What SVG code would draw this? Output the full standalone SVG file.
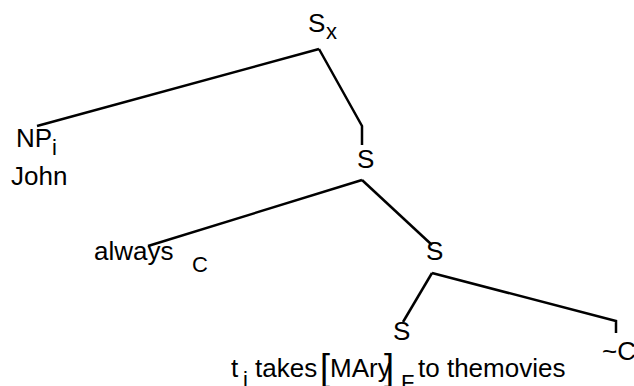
<svg xmlns="http://www.w3.org/2000/svg" width="634" height="386" viewBox="0 0 634 386">
<style>
text{font-family:"Liberation Sans",Arial,sans-serif;fill:#000}
.m{font-size:26px}
.s{font-size:22px}
.b{font-size:36px;font-weight:300}
#edges path{fill:none;stroke:#000;stroke-width:2.5;stroke-linejoin:miter}
</style>
<rect width="634" height="386" fill="#fff"/>
<g id="edges">
<path d="M319,49 L37,126"/>
<path d="M319,49 L362,126 L362,145"/>
<path d="M362,180 L148,246"/>
<path d="M362,180 L432,245"/>
<path d="M432,273 L403,322"/>
<path d="M432,273 L616,321 L616,333"/>
</g>
<g id="n-sx"><text class="m" x="308" y="32">S</text><text class="s" x="326" y="39">x</text></g>
<g id="n-np"><text class="m" x="16" y="147">NP</text><text class="s" x="52" y="155">i</text><text class="m" x="11" y="185">John</text></g>
<g id="n-s1"><text class="m" x="357" y="168">S</text></g>
<g id="n-always"><text class="m" x="94" y="260">always</text><text class="s" x="192" y="272">C</text></g>
<g id="n-s2"><text class="m" x="426" y="260">S</text></g>
<g id="n-s3"><text class="m" x="393" y="340">S</text></g>
<g id="n-c"><text class="m" x="602" y="360">~C</text></g>
<g id="n-t">
<text class="m" x="231" y="377">t</text><text class="s" x="243" y="387">i</text>
<text class="m" x="255" y="377">takes</text>
<text class="b" x="320" y="380">[</text>
<text class="m" x="330" y="377">MAry</text>
<text class="b" x="384" y="380">]</text>
<text class="s" x="401" y="390">F</text>
<text class="m" x="418" y="377">to themovies</text>
</g>
</svg>
